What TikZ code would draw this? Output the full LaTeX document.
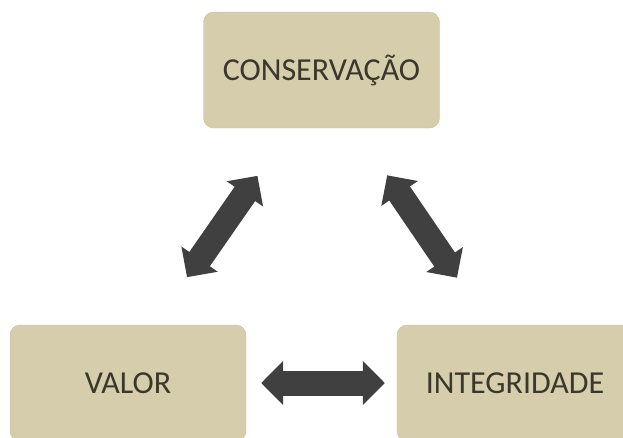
\documentclass[tikz,border=0pt]{standalone}
\usepackage{fontspec}
\setmainfont{Carlito}
\usetikzlibrary{arrows.meta}
\definecolor{boxfill}{HTML}{D6CDAC}
\definecolor{boxline}{HTML}{CCC2A0}
\definecolor{boxtext}{HTML}{3A382A}
\definecolor{arrowgray}{HTML}{404040}

\begin{document}
\begin{tikzpicture}[x=1pt,y=-1pt,
  caixa/.style={fill=boxfill,draw=boxline,rounded corners=10pt,minimum width=236pt,minimum height=116pt,text=boxtext,font=\fontsize{32}{38}\selectfont},
  seta/.style={line width=25pt,draw=arrowgray,{Triangle[width=43pt,length=22pt]}-{Triangle[width=43pt,length=22pt]}}]
\useasboundingbox (0,0) rectangle (623,437);
\clip (0,0) rectangle (623,437);
\node[caixa] (conserv) at (321.5,70) {CONSERVAÇÃO};
\node[caixa] (valor) at (128,383) {VALOR};
\node[caixa] (integ) at (515,383) {INTEGRIDADE};
%\draw [seta] (valor) -- (conserv);
\draw [seta,shorten <=58pt,shorten >=58pt] (valor.66) -- (conserv.242);
\draw [seta,shorten <=57pt,shorten >=57pt] (conserv.300) -- (integ.114);
\draw [seta,shorten <=15pt,shorten >=12pt] (valor.east) -- (integ.west);
\end{tikzpicture}
\end{document}
